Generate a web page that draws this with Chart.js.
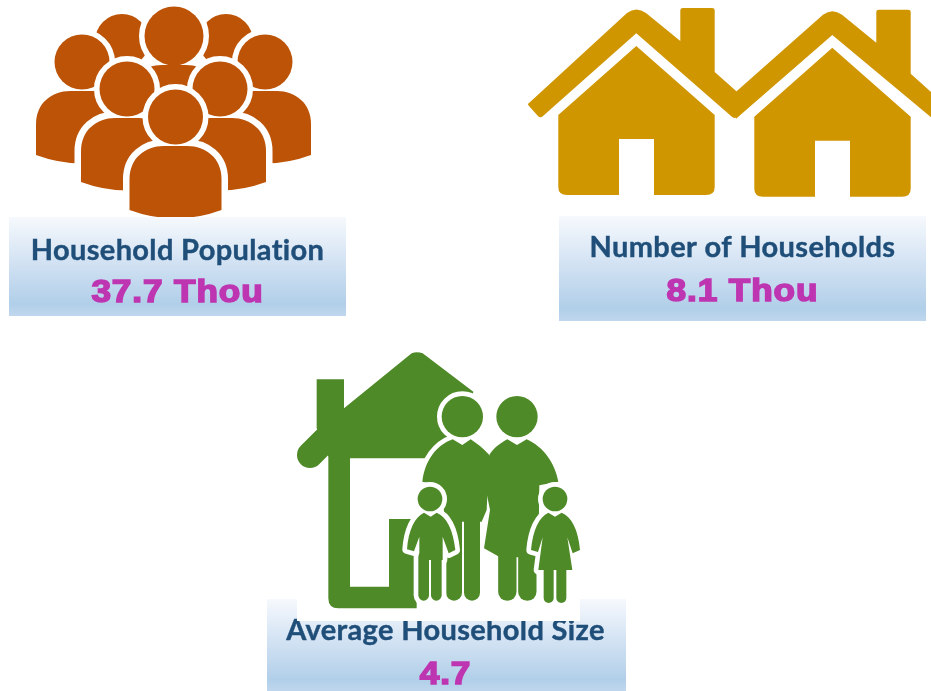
<!DOCTYPE html>
<html>
<head>
<meta charset="utf-8">
<title>Household indicators</title>
<script src="https://cdn.jsdelivr.net/npm/chart.js@4"></script>
<style>
  html, body { margin: 0; padding: 0; background: #fff; }
  canvas { display: block; }
</style>
</head>
<body>
<canvas id="grafico" width="931" height="691"></canvas>
<script>
const ctx = document.getElementById('grafico');

let indicador = ["Household Population", "Number of Households", "Average Household Size"]
let valor = [37.7, 8.1, 4.7]
let unidade = ["Thou", "Thou", ""]

// card layout, kept apart from the values
const cards = [
  { box: [9, 217, 346, 316], cx: 177.5, labelY: 259.5, valueY: 302 },
  { box: [559, 216, 926, 321], cx: 742.5, labelY: 257, valueY: 300.5 },
  { box: [267, 599, 626, 691], cx: 445.5, labelY: 639.5, valueY: 684 }
]

const ORANGE = '#BD5306', GOLD = '#D09600', GREEN = '#4F8A28'

function band(c, b) {
  const g = c.createLinearGradient(0, b[1], 0, b[3])
  g.addColorStop(0, '#F6F9FD')
  g.addColorStop(0.5, '#CFE0F2')
  g.addColorStop(0.88, '#B1CFE9')
  g.addColorStop(1, '#BFD7EE')
  c.fillStyle = g
  c.fillRect(b[0], b[1], b[2] - b[0], b[3] - b[1])
}

function person(c, x, hy, r) {
  const t = hy + 29
  const corpo = () => {
    c.beginPath()
    c.moveTo(x - 46, t + 64)
    c.lineTo(x - 46, t + 33)
    c.bezierCurveTo(x - 46, t + 12, x - 30, t, x - 12, t)
    c.lineTo(x + 12, t)
    c.bezierCurveTo(x + 30, t, x + 46, t + 12, x + 46, t + 33)
    c.lineTo(x + 46, t + 64)
    c.quadraticCurveTo(x, t + 81, x - 46, t + 64)
    c.closePath()
  }
  const cabeca = () => {
    c.beginPath()
    c.arc(x, hy, r, 0, Math.PI * 2)
  }
  // white halos first so a head never cuts into its own body
  c.strokeStyle = '#fff'
  c.fillStyle = ORANGE
  c.lineWidth = 13
  corpo()
  c.stroke()
  c.lineWidth = 11
  cabeca()
  c.stroke()
  corpo()
  c.fill()
  cabeca()
  c.fill()
}

function drawPeople(c) {
  person(c, 122, 41, 27)
  person(c, 226, 41, 27)
  person(c, 82, 62, 27.5)
  person(c, 265, 62, 27.5)
  person(c, 174, 36, 29.5)
  person(c, 127, 89, 27.5)
  person(c, 220, 89, 27.5)
  person(c, 175.5, 117, 27.5)
}

function drawWalls(c) {
  c.fillStyle = GOLD
  c.beginPath()
  c.moveTo(636.3, 46)
  c.lineTo(714.7, 115)
  c.lineTo(714.7, 187)
  c.quadraticCurveTo(714.7, 195, 706, 195)
  c.lineTo(654, 195)
  c.lineTo(654, 139)
  c.lineTo(619, 139)
  c.lineTo(619, 195)
  c.lineTo(567, 195)
  c.quadraticCurveTo(558.3, 195, 558.3, 187)
  c.lineTo(558.3, 115)
  c.closePath()
  c.fill()
}

function roofTop(c) {
  c.lineTo(627, 13)
  c.quadraticCurveTo(636.3, 6, 646, 13)
  c.lineTo(680.3, 41)
  c.lineTo(680.3, 10)
  c.quadraticCurveTo(680.3, 8, 683, 8)
  c.lineTo(712, 8)
  c.quadraticCurveTo(714.7, 8, 714.7, 10)
  c.lineTo(714.7, 72)
}

function drawHouses(c) {
  // second house sits 196px to the right, its left eave is cut by the first one
  c.save()
  c.translate(196, 1.7)
  c.fillStyle = GOLD
  c.beginPath()
  c.moveTo(540, 90)
  roofTop(c)
  c.lineTo(750, 104)
  c.lineTo(738, 118)
  c.lineTo(636.3, 33.3)
  c.lineTo(540, 117)
  c.closePath()
  c.fill()
  drawWalls(c)
  c.restore()

  c.fillStyle = GOLD
  c.beginPath()
  c.moveTo(529, 103)
  roofTop(c)
  c.lineTo(744, 98)
  c.quadraticCurveTo(747, 101, 745, 104)
  c.lineTo(738, 116)
  c.quadraticCurveTo(735, 120, 731, 116)
  c.lineTo(636.3, 33.3)
  c.lineTo(543, 116)
  c.quadraticCurveTo(540, 119, 537, 115)
  c.lineTo(529, 106)
  c.quadraticCurveTo(527, 104, 529, 103)
  c.closePath()
  c.fill()
  drawWalls(c)
}

// family icon is written in 3x units from its own corner
function shapePath(c, pts) {
  c.beginPath()
  pts.forEach((p, i) => {
    if (i === 0) c.moveTo(p[0], p[1])
    else if (p.length === 2) c.lineTo(p[0], p[1])
    else if (p.length === 4) c.quadraticCurveTo(p[0], p[1], p[2], p[3])
    else c.bezierCurveTo(p[0], p[1], p[2], p[3], p[4], p[5])
  })
  c.closePath()
}

function figure(c, shapes, heads, strokes) {
  c.strokeStyle = '#fff'
  c.lineCap = 'round'
  c.lineJoin = 'round'
  c.lineWidth = 28
  shapes.forEach(s => { shapePath(c, s); c.stroke() })
  heads.forEach(h => { c.beginPath(); c.arc(h[0], h[1], h[2], 0, Math.PI * 2); c.stroke() })
  strokes.forEach(s => {
    c.lineWidth = s.w + 28
    c.beginPath(); c.moveTo(s.p[0], s.p[1]); c.lineTo(s.p[2], s.p[3]); c.stroke()
  })
  c.fillStyle = GREEN
  c.strokeStyle = GREEN
  shapes.forEach(s => { shapePath(c, s); c.fill() })
  heads.forEach(h => { c.beginPath(); c.arc(h[0], h[1], h[2], 0, Math.PI * 2); c.fill() })
  strokes.forEach(s => {
    c.lineWidth = s.w
    c.beginPath(); c.moveTo(s.p[0], s.p[1]); c.lineTo(s.p[2], s.p[3]); c.stroke()
  })
}

function drawFamily(c) {
  c.save()
  c.translate(260, 340)
  c.scale(1 / 3, 1 / 3)
  c.fillStyle = GREEN
  c.strokeStyle = GREEN
  c.lineCap = 'round'
  // house
  shapePath(c, [
    [170, 118], [252, 118], [252, 205], [455, 40], [470, 33, 488, 40], [640, 155], [600, 355],
    [270, 355], [270, 740], [387, 740], [387, 537], [470, 537], [470, 805], [235, 805],
    [205, 805, 205, 775], [205, 350], [170, 265]
  ])
  c.fill()
  c.lineWidth = 78
  c.beginPath(); c.moveTo(150, 345); c.lineTo(205, 290); c.stroke()

  // parents
  figure(c, [
    [[607, 315], [578, 298], [530, 315, 495, 360, 487, 425], [540, 436], [557, 545], [665, 545], [680, 510], [688, 345],
      [670, 325, 650, 310, 632, 298]],
    [[771, 315], [742, 298], [720, 310, 700, 325, 688, 345], [672, 420], [690, 510], [672, 625], [720, 652],
      [835, 652], [838, 436], [895, 425], [885, 370, 850, 320, 800, 298]]
  ], [[607, 230, 62], [771, 230, 62]], [
    { w: 48, p: [582, 530, 582, 758] }, { w: 48, p: [636, 530, 636, 758] },
    { w: 55, p: [742, 640, 742, 755] }, { w: 55, p: [802, 640, 802, 755] }
  ])

  // boy
  figure(c, [
    [[512, 530], [492, 518], [465, 530, 445, 570, 441, 628], [462, 634], [478, 590], [478, 660], [548, 660],
      [548, 590], [566, 640], [586, 630], [580, 570, 560, 530, 530, 518]]
  ], [[510, 477, 37]], [
    { w: 32, p: [491, 650, 491, 766] }, { w: 32, p: [529, 650, 529, 766] }
  ])

  // girl
  figure(c, [
    [[885, 530], [865, 518], [838, 530, 818, 570, 813, 630], [834, 636], [848, 592], [835, 690], [937, 690],
      [922, 592], [938, 640], [960, 630], [955, 570, 935, 530, 905, 518]]
  ], [[885, 477, 37]], [
    { w: 30, p: [866, 680, 866, 774] }, { w: 30, p: [904, 680, 904, 774] }
  ])
  c.restore()
}

const painelPlugin = {
  id: 'painel',
  beforeDatasetsDraw(chart) {
    const c = chart.ctx
    const pts = chart.getDatasetMeta(0).data
    c.save()
    drawPeople(c)
    drawHouses(c)
    valor.forEach((v, i) => {
      const card = cards[i]
      band(c, card.box)
      c.textAlign = 'center'
      c.textBaseline = 'alphabetic'
      c.fillStyle = '#1F4E79'
      c.strokeStyle = '#1F4E79'
      c.lineWidth = 0.4
      c.font = 'bold 29px Lato'
      c.letterSpacing = '0.35px'
      c.fillText(indicador[i], pts[i].x, card.labelY)
      c.strokeText(indicador[i], pts[i].x, card.labelY)
      const texto = unidade[i] ? v.toFixed(1) + ' ' + unidade[i] : v.toFixed(1)
      // wide heavy face: stretch the bold a little and thicken it
      c.save()
      c.translate(pts[i].x, card.valueY)
      c.scale(1.1, 1)
      c.fillStyle = '#BE35B1'
      c.strokeStyle = '#BE35B1'
      c.lineWidth = 1.6
      c.font = 'bold 32px "Liberation Sans"'
      c.letterSpacing = '0.8px'
      c.fillText(texto, 0, 0)
      c.strokeText(texto, 0, 0)
      c.restore()
      c.letterSpacing = '0px'
    })
    // the family picture has a white background that laps over its card
    c.fillStyle = '#fff'
    c.fillRect(297, 590, 283, 31)
    drawFamily(c)
    c.restore()
  }
}

new Chart(ctx, {
  type: 'scatter',
  data: {
    labels: indicador,
    datasets: [{
      label: 'Household indicators',
      data: valor.map((v, i) => ({ x: cards[i].cx, y: cards[i].valueY, v: v })),
      pointRadius: 0
    }]
  },
  options: {
    responsive: false,
    animation: false,
    layout: { padding: 0 },
    scales: {
      x: { type: 'linear', min: 0, max: 931, display: false },
      y: { type: 'linear', min: 0, max: 691, reverse: true, display: false }
    },
    plugins: {
      legend: { display: false },
      tooltip: { enabled: false }
    }
  },
  plugins: [painelPlugin]
});
</script>
</body>
</html>
